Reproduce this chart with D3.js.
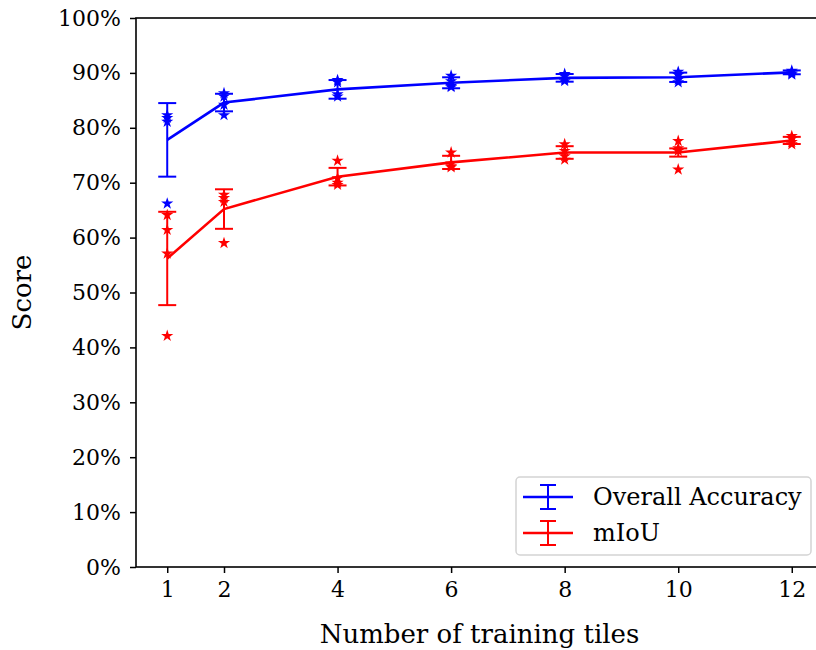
<!DOCTYPE html>
<html lang="en">
<head>
    <meta charset="UTF-8">
    <title>Score vs number of training tiles</title>
    <script src="https://d3js.org/d3.v7.min.js"></script>
    <style>
        body {
            margin: 0;
            background: white;
            font-family: "DejaVu Serif", serif;
        }
        svg text {
            font-family: "DejaVu Serif", serif;
            fill: black;
        }
    </style>
</head>
<body>
    <div id="chart"></div>
    <script>
        // values
        const tiles = [1, 2, 4, 6, 8, 10, 12];
        const oaMean = [77.8, 84.6, 87.0, 88.2, 89.1, 89.2, 90.1];
        const oaErr = [6.7, 1.6, 1.7, 1.0, 0.7, 0.85, 0.35];
        const oaRuns = [
            [82.3, 81.8, 81.1, 66.2],
            [86.3, 85.7, 84.2, 82.3],
            [88.7, 88.3, 86.1, 85.7],
            [89.5, 88.5, 87.6, 87.4],
            [89.8, 89.4, 88.8, 88.5],
            [90.2, 89.6, 88.8, 88.3],
            [90.4, 90.2, 89.9, 89.7]
        ];
        const miouMean = [56.2, 65.2, 71.1, 73.7, 75.5, 75.5, 77.7];
        const miouErr = [8.5, 3.6, 1.6, 1.2, 1.15, 0.75, 0.65];
        const miouRuns = [
            [64.1, 61.4, 57.1, 42.1],
            [67.8, 67.2, 66.5, 59.0],
            [74.0, 70.8, 70.0, 69.6],
            [75.5, 73.5, 73.0, 72.8],
            [77.0, 75.8, 74.8, 74.2],
            [77.6, 76.3, 75.8, 72.4],
            [78.5, 78.0, 77.4, 77.0]
        ];
        const yTicks = [0, 10, 20, 30, 40, 50, 60, 70, 80, 90, 100];
        const seriesNames = ['Overall Accuracy', 'mIoU'];

        const width = 816;
        const height = 650;
        const margin = { top: 18, right: -7, bottom: 83, left: 136 };

        const svg = d3.select('#chart')
            .append('svg')
            .attr('width', width)
            .attr('height', height);

        const x = d3.scaleLinear()
            .domain([0.45, 12.55])
            .range([margin.left, width - margin.right]);
        const y = d3.scaleLinear()
            .domain([0, 100])
            .range([height - margin.bottom, margin.top]);

        const series = [
            { name: seriesNames[0], color: '#0000ff', mean: oaMean, err: oaErr, runs: oaRuns },
            { name: seriesNames[1], color: '#ff0000', mean: miouMean, err: miouErr, runs: miouRuns }
        ];

        // axes
        const xAxis = d3.axisBottom(x).tickValues(tiles).tickSize(6).tickPadding(8);
        const yAxis = d3.axisLeft(y).tickValues(yTicks).tickSize(6).tickPadding(9)
            .tickFormat(d => d + '%');

        const gx = svg.append('g')
            .attr('transform', `translate(0,${y(0)})`)
            .call(xAxis);
        const gy = svg.append('g')
            .attr('transform', `translate(${x(0.45)},0)`)
            .call(yAxis);

        [gx, gy].forEach(g => {
            g.select('.domain').remove();
            g.selectAll('line').attr('stroke', 'black').attr('stroke-width', 1.5);
            g.selectAll('text').style('font-size', '22px');
        });

        // spines
        svg.append('rect')
            .attr('x', x(0.45))
            .attr('y', y(100))
            .attr('width', x(12.55) - x(0.45))
            .attr('height', y(0) - y(100))
            .attr('fill', 'none')
            .attr('stroke', 'black')
            .attr('stroke-width', 1.6);

        const star = d3.symbol().type(d3.symbolStar).size(46);

        series.forEach(s => {
            const g = svg.append('g');

            // individual runs
            s.runs.forEach((vals, i) => {
                g.selectAll(null)
                    .data(vals)
                    .enter().append('path')
                    .attr('d', star)
                    .attr('transform', v => `translate(${x(tiles[i])},${y(v)})`)
                    .attr('fill', s.color);
            });

            // mean line
            const line = d3.line()
                .x((d, i) => x(tiles[i]))
                .y(d => y(d));
            g.append('path')
                .datum(s.mean)
                .attr('fill', 'none')
                .attr('stroke', s.color)
                .attr('stroke-width', 2.6)
                .attr('d', line);

            // error bars
            const eb = g.selectAll('.eb')
                .data(s.mean)
                .enter().append('g');
            eb.append('line')
                .attr('x1', (d, i) => x(tiles[i]))
                .attr('x2', (d, i) => x(tiles[i]))
                .attr('y1', (d, i) => y(d - s.err[i]))
                .attr('y2', (d, i) => y(d + s.err[i]))
                .attr('stroke', s.color)
                .attr('stroke-width', 2);
            [-1, 1].forEach(sign => {
                eb.append('line')
                    .attr('x1', (d, i) => x(tiles[i]) - 9)
                    .attr('x2', (d, i) => x(tiles[i]) + 9)
                    .attr('y1', (d, i) => y(d + sign * s.err[i]))
                    .attr('y2', (d, i) => y(d + sign * s.err[i]))
                    .attr('stroke', s.color)
                    .attr('stroke-width', 2);
            });
        });

        // axis labels
        svg.append('text')
            .attr('x', (x(0.45) + x(12.55)) / 2)
            .attr('y', 643)
            .attr('text-anchor', 'middle')
            .style('font-size', '26px')
            .text('Number of training tiles');

        svg.append('text')
            .attr('transform', `translate(31,${y(50)}) rotate(-90)`)
            .attr('text-anchor', 'middle')
            .style('font-size', '26px')
            .text('Score');

        // legend
        const legend = svg.append('g').attr('transform', 'translate(516,477)');
        legend.append('rect')
            .attr('width', 295)
            .attr('height', 78)
            .attr('rx', 4)
            .attr('fill', 'white')
            .attr('fill-opacity', 0.8)
            .attr('stroke', '#d4d4d4')
            .attr('stroke-width', 1.5);

        series.forEach((s, i) => {
            const row = legend.append('g').attr('transform', `translate(0,${20 + i * 36})`);
            row.append('line')
                .attr('x1', 7).attr('x2', 57).attr('y1', 0).attr('y2', 0)
                .attr('stroke', s.color).attr('stroke-width', 2.6);
            row.append('line')
                .attr('x1', 32).attr('x2', 32).attr('y1', -12).attr('y2', 12)
                .attr('stroke', s.color).attr('stroke-width', 2);
            [-12, 12].forEach(dy => {
                row.append('line')
                    .attr('x1', 24).attr('x2', 40).attr('y1', dy).attr('y2', dy)
                    .attr('stroke', s.color).attr('stroke-width', 2);
            });
            row.append('text')
                .attr('x', 77)
                .attr('y', 0)
                .attr('dy', '0.35em')
                .style('font-size', '24px')
                .text(s.name);
        });
    </script>
</body>
</html>
